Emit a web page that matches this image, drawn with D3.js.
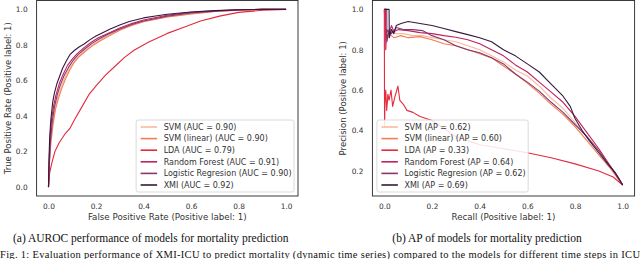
<!DOCTYPE html>
<html><head><meta charset="utf-8">
<script src="https://cdn.jsdelivr.net/npm/d3@7"></script>
<style>body{margin:0;background:#fff}svg{display:block}</style>
</head><body>
<svg id="c" width="640" height="259"></svg>
<script>
const models = ["SVM","SVM (linear)","LDA","Random Forest","Logistic Regresion","XMI"];
const colors = ["#f7bb9c","#f37d57","#e52a3b","#c0215f","#86386e","#36193f"];
const aucValues = ["0.90","0.90","0.79","0.91","0.90","0.92"];
const apValues = ["0.62","0.60","0.33","0.64","0.62","0.69"];
const rocTicks = [0,0.2,0.4,0.6,0.8,1.0];
const prTicks = [0.2,0.4,0.6,0.8,1.0];

// ROC curves: [fpr, tpr]
const rocSVM = [[0,0],[0.004,0.14],[0.01,0.26],[0.018,0.36],[0.028,0.44],[0.04,0.51],[0.055,0.57],[0.07,0.62],[0.09,0.67],[0.11,0.71],[0.13,0.74],[0.16,0.775],[0.19,0.805],[0.22,0.83],[0.26,0.86],[0.3,0.885],[0.35,0.912],[0.4,0.932],[0.5,0.958],[0.6,0.975],[0.7,0.988],[0.8,0.996],[0.9,1],[1,1]];
const rocSVMlin = [[0,0],[0.004,0.13],[0.01,0.25],[0.02,0.36],[0.03,0.44],[0.042,0.5],[0.057,0.56],[0.072,0.61],[0.09,0.66],[0.11,0.705],[0.13,0.735],[0.16,0.77],[0.19,0.8],[0.22,0.825],[0.26,0.855],[0.3,0.882],[0.35,0.91],[0.4,0.93],[0.5,0.957],[0.6,0.974],[0.7,0.988],[0.8,0.996],[0.9,1],[1,1]];
const rocLDA = [[0,0],[0.005,0.08],[0.015,0.14],[0.027,0.2],[0.045,0.25],[0.07,0.3],[0.09,0.33],[0.11,0.38],[0.14,0.45],[0.17,0.52],[0.2,0.57],[0.24,0.63],[0.28,0.68],[0.32,0.73],[0.36,0.77],[0.42,0.815],[0.5,0.865],[0.57,0.9],[0.64,0.935],[0.72,0.962],[0.8,0.983],[0.9,0.995],[1,1]];
const rocRF = [[0,0],[0.003,0.16],[0.007,0.28],[0.013,0.38],[0.022,0.46],[0.032,0.52],[0.045,0.58],[0.06,0.63],[0.08,0.685],[0.1,0.72],[0.12,0.75],[0.15,0.785],[0.18,0.815],[0.21,0.84],[0.25,0.865],[0.3,0.895],[0.35,0.92],[0.4,0.94],[0.5,0.967],[0.6,0.983],[0.7,0.992],[0.8,0.998],[0.9,1],[1,1]];
const rocLR = [[0,0],[0.004,0.15],[0.009,0.27],[0.016,0.37],[0.025,0.45],[0.037,0.52],[0.05,0.575],[0.065,0.625],[0.085,0.675],[0.105,0.715],[0.125,0.745],[0.155,0.78],[0.185,0.81],[0.215,0.835],[0.25,0.86],[0.3,0.89],[0.35,0.915],[0.4,0.935],[0.5,0.962],[0.6,0.98],[0.7,0.99],[0.8,0.997],[0.9,1],[1,1]];
const rocXMI = [[0,0],[0.002,0.15],[0.005,0.28],[0.01,0.38],[0.018,0.48],[0.025,0.53],[0.035,0.58],[0.05,0.635],[0.06,0.67],[0.075,0.71],[0.09,0.745],[0.11,0.77],[0.13,0.79],[0.15,0.805],[0.175,0.83],[0.2,0.85],[0.23,0.87],[0.26,0.89],[0.3,0.912],[0.34,0.932],[0.4,0.952],[0.45,0.963],[0.5,0.973],[0.6,0.985],[0.7,0.993],[0.8,0.998],[0.9,1],[1,1]];

// PR curves: [recall, precision]
const prSVM = [[0,1],[0.005,0.85],[0.01,0.88],[0.02,0.86],[0.03,0.89],[0.05,0.88],[0.08,0.88],[0.12,0.87],[0.16,0.87],[0.2,0.86],[0.25,0.85],[0.3,0.84],[0.35,0.82],[0.4,0.8],[0.45,0.77],[0.5,0.74],[0.55,0.7],[0.6,0.67],[0.65,0.62],[0.7,0.56],[0.75,0.51],[0.8,0.44],[0.85,0.37],[0.9,0.3],[0.95,0.22],[1,0.13]];
const prSVMlin = [[0,1],[0.004,0.9],[0.01,0.86],[0.02,0.88],[0.04,0.86],[0.07,0.87],[0.1,0.86],[0.15,0.865],[0.2,0.85],[0.25,0.83],[0.3,0.82],[0.35,0.8],[0.4,0.78],[0.45,0.76],[0.5,0.72],[0.55,0.68],[0.6,0.635],[0.65,0.585],[0.7,0.53],[0.75,0.48],[0.8,0.42],[0.85,0.35],[0.9,0.28],[0.95,0.21],[1,0.13]];
const prLDA = [[0,1],[0.001,0.42],[0.003,0.55],[0.006,0.6],[0.01,0.5],[0.015,0.58],[0.02,0.55],[0.028,0.6],[0.035,0.52],[0.045,0.57],[0.057,0.62],[0.065,0.55],[0.08,0.53],[0.095,0.5],[0.12,0.49],[0.15,0.47],[0.2,0.45],[0.25,0.41],[0.3,0.37],[0.4,0.33],[0.5,0.31],[0.6,0.29],[0.7,0.265],[0.8,0.235],[0.9,0.2],[0.96,0.17],[1,0.13]];
const prRF = [[0,1],[0.005,1],[0.006,0.8],[0.01,0.9],[0.02,0.88],[0.03,0.92],[0.04,0.89],[0.06,0.9],[0.1,0.895],[0.15,0.885],[0.2,0.88],[0.25,0.87],[0.3,0.862],[0.35,0.85],[0.4,0.83],[0.45,0.8],[0.5,0.77],[0.55,0.725],[0.6,0.69],[0.65,0.64],[0.7,0.59],[0.75,0.54],[0.8,0.47],[0.85,0.39],[0.9,0.31],[0.95,0.22],[0.98,0.17],[1,0.13]];
const prLR = [[0,1],[0.01,1],[0.011,0.84],[0.02,0.9],[0.03,0.88],[0.05,0.91],[0.08,0.9],[0.12,0.9],[0.16,0.895],[0.2,0.87],[0.25,0.85],[0.3,0.82],[0.35,0.8],[0.4,0.785],[0.45,0.76],[0.5,0.73],[0.55,0.68],[0.6,0.64],[0.65,0.595],[0.7,0.54],[0.75,0.49],[0.8,0.43],[0.85,0.37],[0.9,0.3],[0.95,0.22],[1,0.13]];
const prXMI = [[0,1],[0.02,1],[0.021,0.86],[0.03,0.9],[0.04,0.88],[0.05,0.92],[0.07,0.93],[0.1,0.94],[0.15,0.93],[0.2,0.92],[0.25,0.905],[0.3,0.89],[0.35,0.875],[0.4,0.86],[0.45,0.84],[0.5,0.8],[0.55,0.77],[0.6,0.73],[0.65,0.69],[0.7,0.63],[0.75,0.57],[0.78,0.52],[0.8,0.46],[0.83,0.4],[0.86,0.35],[0.9,0.29],[0.94,0.23],[0.97,0.19],[1,0.13]];

const rocData = [rocSVM,rocSVMlin,rocLDA,rocRF,rocLR,rocXMI];
const prData = [prSVM,prSVMlin,prLDA,prRF,prLR,prXMI];

const svg = d3.select("#c");
const FONT = "DejaVu Sans";
const TXT = "#333";

function panel(opts){
  const {xr, yr, ydom, yticks, data, labels, xlabel, ylabel, ylabX, legendSide, caption} = opts;
  const x = d3.scaleLinear().domain([-0.05,1.05]).range(xr);
  const y = d3.scaleLinear().domain(ydom).range(yr);
  const g = svg.append("g");
  const xa = g.append("g").attr("transform",`translate(0,${yr[0]})`)
    .call(d3.axisBottom(x).tickValues(rocTicks).tickFormat(d3.format(".1f")).tickSize(0).tickPadding(7.5));
  const ya = g.append("g").attr("transform",`translate(${xr[0]},0)`)
    .call(d3.axisLeft(y).tickValues(yticks).tickFormat(d3.format(".1f")).tickSize(0).tickPadding(9));
  [xa,ya].forEach(a=>{a.select(".domain").remove();a.selectAll("text").attr("font-family",FONT).attr("font-size",7.4).attr("fill",TXT);});
  const line = d3.line().x(d=>x(d[0])).y(d=>y(d[1]));
  data.forEach((d,i)=>{
    g.append("path").datum(d).attr("d",line).attr("fill","none")
      .attr("stroke",colors[i]).attr("stroke-width",1.1).attr("stroke-linejoin","round");
  });
  g.append("rect").attr("x",xr[0]).attr("y",yr[1]).attr("width",xr[1]-xr[0]).attr("height",yr[0]-yr[1])
    .attr("fill","none").attr("stroke","#262626").attr("stroke-width",0.9);
  g.append("text").attr("x",(xr[0]+xr[1])/2).attr("y",yr[0]+24).attr("text-anchor","middle")
    .attr("font-family",FONT).attr("font-size",8.7).attr("fill",TXT).text(xlabel);
  g.append("text").attr("transform",`translate(${ylabX},${(yr[0]+yr[1])/2}) rotate(-90)`).attr("text-anchor","middle")
    .attr("dy","0.35em").attr("font-family",FONT).attr("font-size",8.5).attr("fill",TXT).text(ylabel);
  // legend
  const lg = g.append("g");
  const box = lg.append("rect");
  const rowH = 11.6;
  let maxW = 0;
  labels.forEach((t,i)=>{
    const tx = lg.append("text").attr("x",26).attr("y",i*rowH).attr("dy","0.35em")
      .attr("font-family",FONT).attr("font-size",8).attr("fill",TXT).text(t);
    maxW = Math.max(maxW, tx.node().getComputedTextLength());
    lg.append("line").attr("x1",3).attr("x2",19.5).attr("y1",i*rowH).attr("y2",i*rowH)
      .attr("stroke",colors[i]).attr("stroke-width",1.6);
  });
  const bw = 26 + maxW + 4, bh = 5*rowH + 14;
  box.attr("x",-1.5).attr("y",-7).attr("width",bw).attr("height",bh).attr("rx",2)
    .attr("fill","#fff").attr("fill-opacity",0.85).attr("stroke","#d0d0d0").attr("stroke-width",0.8);
  const ly = yr[0] - 4 - bh + 7;
  const lx = legendSide==="right" ? xr[1]-4-bw+1.5 : xr[0]+4.5+1.5;
  lg.attr("transform",`translate(${lx},${ly})`);
  g.append("text").attr("x",(xr[0]+xr[1])/2 - 16.5).attr("y",241.5).attr("text-anchor","middle")
    .attr("font-family","Liberation Serif").attr("font-size",11.5).attr("fill","#111").text(caption);
}

panel({xr:[36.6,298], yr:[196,0.5], ydom:[-0.05,1.05], yticks:rocTicks, data:rocData,
  labels: models.map((m,i)=>`${m} (AUC = ${aucValues[i]})`),
  xlabel:"False Positive Rate (Positive label: 1)", ylabel:"True Positive Rate (Positive label: 1)",
  ylabX:8, legendSide:"right", caption:"(a) AUROC performance of models for mortality prediction"});

panel({xr:[372.4,634.6], yr:[196,0.5], ydom:[0.076,1.044], yticks:prTicks, data:prData,
  labels: models.map((m,i)=>`${m} (AP = ${apValues[i]})`),
  xlabel:"Recall (Positive label: 1)", ylabel:"Precision (Positive label: 1)",
  ylabX:343, legendSide:"left", caption:"(b) AP of models for mortality prediction"});

svg.append("text").attr("x",0).attr("y",257.5).attr("font-family","Liberation Serif").attr("font-size",10.5)
  .attr("fill","#111").attr("textLength",640).attr("lengthAdjust","spacing")
  .text("Fig. 1: Evaluation performance of XMI-ICU to predict mortality (dynamic time series) compared to the models for different time steps in ICU");
</script>
</body></html>
